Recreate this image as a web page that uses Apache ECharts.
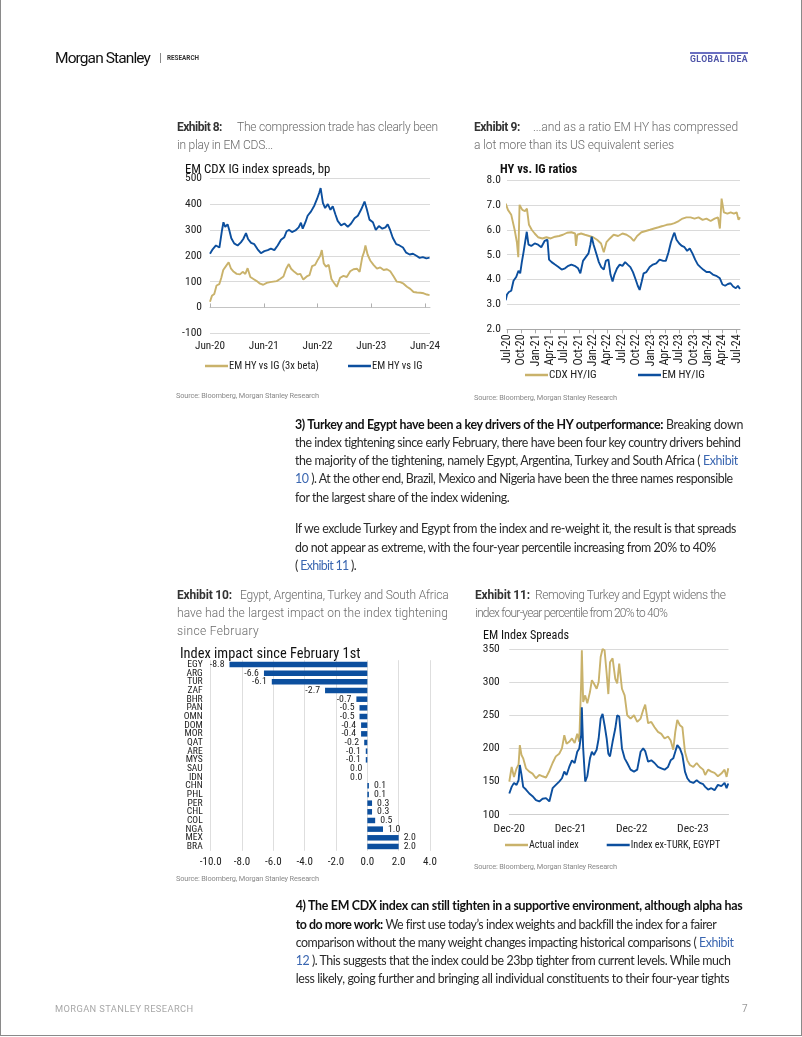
<!DOCTYPE html>
<html><head><meta charset="utf-8">
<script src="https://cdn.jsdelivr.net/npm/echarts@6/dist/echarts.min.js"></script>
<style>
html,body{margin:0;padding:0;background:#fff;}
#page{position:relative;width:802px;height:1037px;overflow:hidden;background:#fff;}
#chart{position:absolute;left:0;top:0;width:802px;height:1037px;z-index:0;}
#frame{position:absolute;left:0;top:0;width:802px;height:1036px;box-sizing:border-box;border:1px solid #8a8a8a;border-top:none;z-index:2;pointer-events:none;}
.t{position:absolute;white-space:nowrap;z-index:1;line-height:16px;}
.cap{font-family:Roboto,sans-serif;font-size:12px;color:#6a6a6a;font-weight:300;}
.cap b{color:#333;font-weight:700;}
.bd{font-family:Lato,'Open Sans',sans-serif;font-size:12.4px;color:#2a2a2a;}
.bd b{color:#111;font-weight:700;}
.lk{color:#3a66b0;}
.src{font-family:Roboto,sans-serif;font-size:7.4px;color:#8a8a8a;}
</style></head>
<body>
<div id="page">
<div id="chart"></div>
<div id="frame"></div>

<div class="t" style="left:55px;top:49.5px;font-family:Roboto,sans-serif;font-size:15.5px;color:#111;" data-r="150">Morgan Stanley</div>
<div style="position:absolute;left:160px;top:53px;width:1px;height:10px;background:#888;"></div>
<div class="t" style="left:167px;top:50px;font-family:Roboto,sans-serif;font-size:6.3px;font-weight:700;color:#333;" data-r="199">RESEARCH</div>
<div style="position:absolute;left:690px;top:51.5px;width:58px;height:2px;background:#6b70c2;"></div>
<div class="t" style="left:690px;top:51px;font-family:Roboto,sans-serif;font-size:8.6px;font-weight:700;color:#4f55a8;" data-r="748">GLOBAL IDEA</div>

<div class="t cap" style="left:177px;top:118.5px;" data-r="222"><b>Exhibit 8:</b></div>
<div class="t cap" style="left:237px;top:118.5px;" data-r="438">The compression trade has clearly been</div>
<div class="t cap" style="left:177px;top:136.5px;" data-r="273">in play in EM CDS...</div>

<div class="t cap" style="left:474px;top:118.5px;" data-r="520"><b>Exhibit 9:</b></div>
<div class="t cap" style="left:533px;top:118.5px;" data-r="738">...and as a ratio EM HY has compressed</div>
<div class="t cap" style="left:474px;top:136.5px;" data-r="674">a lot more than its US equivalent series</div>

<div class="t src" style="left:176px;top:387.7px;" data-r="319">Source: Bloomberg, Morgan Stanley Research</div>
<div class="t src" style="left:474px;top:389.7px;" data-r="617">Source: Bloomberg, Morgan Stanley Research</div>

<div class="t bd" style="left:295px;top:417px;" data-r="743"><b>3) Turkey and Egypt have been a key drivers of the HY outperformance:</b> Breaking down</div>
<div class="t bd" style="left:295px;top:435.3px;" data-r="740.7">the index tightening since early February, there have been four key country drivers behind</div>
<div class="t bd" style="left:295px;top:453px;" data-r="738.3">the majority of the tightening, namely Egypt, Argentina, Turkey and South Africa ( <span class="lk">Exhibit</span></div>
<div class="t bd" style="left:295px;top:471.3px;" data-r="732.7"><span class="lk">10</span> ). At the other end, Brazil, Mexico and Nigeria have been the three names responsible</div>
<div class="t bd" style="left:295px;top:489.7px;" data-r="509.3">for the largest share of the index widening.</div>
<div class="t bd" style="left:295px;top:521.3px;" data-r="736">If we exclude Turkey and Egypt from the index and re-weight it, the result is that spreads</div>
<div class="t bd" style="left:295px;top:539.7px;" data-r="716">do not appear as extreme, with the four-year percentile increasing from 20% to 40%</div>
<div class="t bd" style="left:295px;top:558px;" data-r="356">( <span class="lk">Exhibit 11</span> ).</div>

<div class="t cap" style="left:177px;top:587px;" data-r="232"><b>Exhibit 10:</b></div>
<div class="t cap" style="left:240px;top:587px;" data-r="448.5">Egypt, Argentina, Turkey and South Africa</div>
<div class="t cap" style="left:177px;top:605px;" data-r="448">have had the largest impact on the index tightening</div>
<div class="t cap" style="left:177px;top:622.5px;" data-r="259">since February</div>

<div class="t cap" style="left:475px;top:587px;" data-r="530"><b>Exhibit 11:</b></div>
<div class="t cap" style="left:535px;top:587px;" data-r="725.6">Removing Turkey and Egypt widens the</div>
<div class="t cap" style="left:475px;top:605px;" data-r="667">index four-year percentile from 20% to 40%</div>

<div class="t src" style="left:176px;top:871.3px;" data-r="319">Source: Bloomberg, Morgan Stanley Research</div>
<div class="t src" style="left:474px;top:858.7px;" data-r="617">Source: Bloomberg, Morgan Stanley Research</div>

<div class="t bd" style="left:295.7px;top:898px;" data-r="743"><b>4) The EM CDX index can still tighten in a supportive environment, although alpha has</b></div>
<div class="t bd" style="left:295.7px;top:916.7px;" data-r="715.8"><b>to do more work:</b> We first use today’s index weights and backfill the index for a fairer</div>
<div class="t bd" style="left:295.7px;top:935px;" data-r="733.7">comparison without the many weight changes impacting historical comparisons ( <span class="lk">Exhibit</span></div>
<div class="t bd" style="left:295.7px;top:953.3px;" data-r="730.7"><span class="lk">12</span> ). This suggests that the index could be 23bp tighter from current levels. While much</div>
<div class="t bd" style="left:295.7px;top:971.3px;" data-r="729.6">less likely, going further and bringing all individual constituents to their four-year tights</div>

<div class="t" style="left:55px;top:1001px;font-family:Roboto,sans-serif;font-size:9.3px;color:#a8a8a8;" data-r="193.5">MORGAN STANLEY RESEARCH</div>
<div class="t" style="left:742px;top:1001px;font-family:Roboto,sans-serif;font-size:10px;color:#999;">7</div>
</div>

<script>
// ---------- DATA ----------
// Exhibit 8
const ex8GoldDates = ['2020-06-01','2020-06-14','2020-06-30','2020-07-15','2020-08-03','2020-08-17','2020-08-30','2020-09-18','2020-10-06','2020-10-22','2020-11-10','2020-11-30','2020-12-22',
 '2021-01-10','2021-01-28','2021-02-13','2021-03-01','2021-03-22','2021-04-14','2021-05-06','2021-05-28','2021-06-21','2021-07-13','2021-08-05','2021-08-28','2021-09-20','2021-10-13','2021-11-01','2021-11-19','2021-12-04','2021-12-26',
 '2022-01-19','2022-02-06','2022-02-26','2022-03-19','2022-04-07','2022-04-25','2022-05-15','2022-06-03','2022-06-19','2022-06-30','2022-07-13','2022-07-28','2022-08-16','2022-09-04','2022-09-22','2022-10-10','2022-11-02','2022-11-25','2022-12-17',
 '2023-01-10','2023-02-02','2023-02-25','2023-03-13','2023-03-31','2023-04-13','2023-04-22','2023-05-06','2023-05-24','2023-06-16','2023-07-09','2023-08-01','2023-08-24','2023-09-16','2023-10-08','2023-10-31','2023-11-22','2023-12-15',
 '2024-01-07','2024-01-30','2024-02-22','2024-03-14','2024-04-07','2024-04-30','2024-05-22','2024-06-13','2024-07-01'];
const ex8HY3xBeta = [22,45,52,85,90,115,145,160,175,150,138,130,128,
 138,130,152,118,110,102,92,88,95,98,100,102,110,120,150,168,150,138,
 128,130,108,120,125,160,165,185,200,222,170,158,165,110,95,80,115,122,118,
 140,148,150,138,195,215,240,205,182,165,150,155,145,148,140,120,100,98,
 92,80,72,60,58,57,55,50,48];
const ex8BlueDates = ['2020-06-01','2020-06-19','2020-07-11','2020-08-04','2020-08-22','2020-09-01','2020-09-13','2020-09-29','2020-10-10','2020-10-24','2020-11-13','2020-12-06','2020-12-28',
 '2021-01-14','2021-02-02','2021-02-16','2021-03-06','2021-03-28','2021-04-20','2021-05-12','2021-06-05','2021-06-28','2021-07-19','2021-08-12','2021-09-04','2021-09-27','2021-10-19','2021-11-04','2021-11-22','2021-12-10',
 '2022-01-03','2022-01-25','2022-02-10','2022-02-22','2022-03-10','2022-03-25','2022-04-18','2022-05-10','2022-05-28','2022-06-13','2022-06-22','2022-07-07','2022-07-22','2022-08-10','2022-08-28','2022-09-13','2022-10-01','2022-10-16','2022-11-09','2022-12-01','2022-12-24',
 '2023-01-16','2023-02-09','2023-03-01','2023-03-24','2023-04-16','2023-05-01','2023-05-19','2023-06-12','2023-07-01','2023-07-22','2023-08-15','2023-09-06','2023-09-21','2023-10-07','2023-10-25','2023-11-18','2023-12-10',
 '2024-01-03','2024-01-25','2024-02-18','2024-03-10','2024-04-03','2024-04-25','2024-05-16','2024-06-10','2024-07-01'];
const ex8HYvsIG = [208,225,240,232,300,330,312,322,300,268,248,240,252,
 265,288,265,250,245,225,210,218,222,228,222,240,262,272,295,300,292,
 298,310,328,305,330,355,372,395,420,445,462,405,385,400,378,392,360,335,318,325,312,
 325,345,355,380,410,380,340,330,300,315,305,310,322,300,270,245,240,
 232,212,205,208,200,192,195,190,193];
const ex8Ticks = ['Jun-20','Jun-21','Jun-22','Jun-23','Jun-24'];

// Exhibit 9
const ex9CdxDates = ['2020-06-23','2020-07-07','2020-07-28','2020-08-19','2020-09-03','2020-09-12','2020-09-20','2020-10-07','2020-10-24','2020-11-06','2020-11-19','2020-12-06','2020-12-25',
 '2021-01-16','2021-02-13','2021-03-08','2021-04-05','2021-05-02','2021-05-28','2021-06-22','2021-07-18','2021-08-15','2021-09-08','2021-09-14','2021-09-22','2021-10-16','2021-11-10','2021-12-06',
 '2022-01-01','2022-01-26','2022-02-21','2022-03-08','2022-03-25','2022-04-16','2022-05-10','2022-06-08','2022-07-05','2022-08-01','2022-08-25','2022-09-16','2022-10-07','2022-11-04','2022-12-01','2022-12-28',
 '2023-01-24','2023-02-21','2023-03-17','2023-04-12','2023-05-07','2023-06-01','2023-06-28','2023-07-22','2023-08-16','2023-09-12','2023-10-07','2023-11-02','2023-11-28','2023-12-22',
 '2024-01-18','2024-02-13','2024-03-04','2024-03-16','2024-03-27','2024-04-11','2024-05-03','2024-05-24','2024-06-14','2024-07-01','2024-07-13','2024-07-22'];
const ex9CdxRatio = [7.05,6.8,6.6,6.0,5.5,4.9,7.0,6.8,6.75,6.85,6.2,6.0,5.85,
 5.7,5.65,5.7,5.65,5.72,5.75,5.8,5.88,5.9,5.85,5.35,5.8,5.85,5.8,5.75,
 5.7,5.6,5.45,5.1,5.5,5.65,5.8,5.75,5.85,5.8,5.7,5.55,5.75,5.9,5.95,6.0,
 6.05,6.1,6.15,6.2,6.22,6.27,6.35,6.45,6.5,6.5,6.45,6.5,6.4,6.45,
 6.35,6.45,6.5,6.05,7.25,6.7,6.65,6.7,6.65,6.7,6.4,6.5];
const ex9EmDates = ['2020-06-23','2020-07-01','2020-07-13','2020-07-28','2020-08-12','2020-08-29','2020-09-13','2020-09-24','2020-10-04','2020-10-15','2020-10-25','2020-11-05','2020-11-16','2020-12-03','2020-12-25',
 '2021-01-16','2021-02-06','2021-02-27','2021-03-15','2021-03-25','2021-04-11','2021-05-02','2021-05-24','2021-06-14','2021-07-05','2021-07-26','2021-08-15','2021-09-05','2021-09-27','2021-10-11','2021-10-28','2021-11-15','2021-12-02','2021-12-14','2021-12-22',
 '2022-01-04','2022-01-21','2022-02-07','2022-02-22','2022-03-08','2022-03-21','2022-04-07','2022-04-20','2022-05-03','2022-05-15','2022-06-01','2022-06-18','2022-07-05','2022-07-22','2022-08-08','2022-08-25','2022-09-11','2022-09-28','2022-10-11','2022-10-23','2022-11-05','2022-11-18','2022-12-05','2022-12-26',
 '2023-01-16','2023-02-07','2023-02-28','2023-03-21','2023-04-07','2023-04-24','2023-05-09','2023-05-24','2023-06-01','2023-06-14','2023-07-01','2023-07-18','2023-08-04','2023-08-21','2023-09-07','2023-09-24','2023-10-11','2023-10-28','2023-11-14','2023-12-01','2023-12-22',
 '2024-01-12','2024-02-02','2024-02-23','2024-03-16','2024-04-02','2024-04-19','2024-05-06','2024-05-23','2024-06-09','2024-06-26','2024-07-09','2024-07-22'];
const ex9EmRatio = [3.17,3.4,3.5,3.55,3.95,4.1,4.35,4.25,4.7,5.1,5.05,5.92,5.4,5.35,5.45,
 5.4,5.3,5.55,5.6,4.8,4.7,4.6,4.5,4.4,4.45,4.55,4.6,4.55,4.45,4.25,4.75,4.9,5.05,5.4,5.72,
 5.4,5.05,4.7,4.5,4.4,4.75,4.8,4.2,3.92,4.2,4.45,4.6,4.55,4.7,4.6,4.5,4.3,4.0,3.75,3.58,3.9,4.25,4.3,4.5,
 4.6,4.65,4.8,4.75,4.75,5.1,5.5,5.78,5.88,5.6,5.45,5.35,5.3,5.15,5.25,5.05,4.8,4.6,4.5,4.4,4.3,
 4.3,4.2,4.15,4.05,3.8,3.75,3.82,3.85,3.72,3.65,3.75,3.62];
const ex9Ticks = ['Jul-20','Oct-20','Jan-21','Apr-21','Jul-21','Oct-21','Jan-22','Apr-22','Jul-22','Oct-22','Jan-23','Apr-23','Jul-23','Oct-23','Jan-24','Apr-24','Jul-24'];

// Exhibit 10
const ex10Countries = ['EGY','ARG','TUR','ZAF','BHR','PAN','OMN','DOM','MOR','QAT','ARE','MYS','SAU','IDN','CHN','PHL','PER','CHL','COL','NGA','MEX','BRA'];
const ex10Impact = [-8.8,-6.6,-6.1,-2.7,-0.7,-0.5,-0.5,-0.4,-0.4,-0.2,-0.1,-0.1,0.0,0.0,0.1,0.1,0.3,0.3,0.5,1.0,2.0,2.0];

// Exhibit 11
const ex11Dates = ['2020-12-01','2020-12-15','2020-12-29',
 '2021-01-14','2021-01-26','2021-02-03','2021-02-13','2021-02-23','2021-03-09','2021-03-29','2021-04-18','2021-05-08','2021-05-28','2021-06-17','2021-07-07','2021-07-27','2021-08-16','2021-09-05','2021-09-25','2021-10-11','2021-10-25','2021-11-08','2021-11-24','2021-12-10','2021-12-26',
 '2022-01-11','2022-01-23','2022-02-04','2022-02-08','2022-02-16','2022-02-28','2022-03-10','2022-03-26','2022-04-07','2022-04-19','2022-05-05','2022-05-17','2022-05-29','2022-06-10','2022-06-22','2022-07-04','2022-07-14','2022-07-24','2022-08-09','2022-08-25','2022-09-06','2022-09-18','2022-10-04','2022-10-20','2022-11-05','2022-11-25','2022-12-15',
 '2023-01-04','2023-01-24','2023-02-09','2023-02-21','2023-03-08','2023-03-27','2023-04-16','2023-05-06','2023-05-26','2023-06-15','2023-07-05','2023-07-21','2023-08-06','2023-08-18','2023-08-30','2023-09-15','2023-09-30','2023-10-15','2023-10-29','2023-11-14','2023-12-04','2023-12-24',
 '2024-01-13','2024-02-02','2024-02-14','2024-03-01','2024-03-20','2024-04-09','2024-04-29','2024-05-19','2024-06-08','2024-06-20','2024-06-30'];
const ex11Actual = [150,172,157,
 170,176,205,190,185,170,165,162,155,160,158,156,166,178,188,192,200,220,207,210,215,208,
 222,210,300,348,270,280,268,285,303,298,290,300,338,350,348,313,282,330,336,305,298,328,290,280,250,245,250,
 240,245,258,266,238,240,232,225,222,215,218,212,198,225,243,235,232,195,182,175,172,178,
 172,168,160,168,165,163,158,162,168,157,170];
const ex11ExTurkEgypt = [132,142,148,
 145,152,175,160,142,138,132,128,122,120,124,125,120,140,145,150,155,165,160,172,182,178,
 195,200,220,262,200,150,158,185,195,190,198,215,245,252,235,215,192,188,210,230,250,248,200,185,178,168,165,
 168,195,200,196,180,182,178,172,170,168,172,182,185,195,205,200,190,165,155,150,148,152,
 148,146,142,138,140,137,145,143,148,140,147];
const ex11Ticks = ['Dec-20','Dec-21','Dec-22','Dec-23'];

// ---------- CHART ----------
const GOLD = '#c9b26b', BLUE = '#0c4f9e', GRIDC = '#dadada', TXT = '#222';
const FN = "'Liberation Sans Narrow','Arial Narrow','Roboto Condensed','DejaVu Sans Condensed',Roboto,sans-serif";

function mo(s, y0, m0){ const p = s.split('-').map(Number); return (p[0]-y0)*12 + (p[1]-m0) + (p[2]-1)/30.4; }
function pairs(dates, vals, y0, m0){ return dates.map((d,i)=>[mo(d,y0,m0), vals[i]]); }
function tickFmt(labels, step){ return v => { const i = Math.round(v/step); return (Math.abs(v-i*step)<1e-6 && labels[i]!==undefined) ? labels[i] : ''; }; }
const lbl = (size, extra) => Object.assign({fontFamily:FN, fontSize:size, color:TXT}, extra||{});

const chart = echarts.init(document.getElementById('chart'), null, {renderer:'canvas', width:802, height:1037});
const lineSeries = (name, xi, yi, data, color) => ({name, type:'line', xAxisIndex:xi, yAxisIndex:yi, data, showSymbol:false, symbol:'none',
  lineStyle:{width:1.9, color}, itemStyle:{color}, emphasis:{disabled:true}, z:3});
const legendItem = (name, left, top, fs) => ({data:[name], left, top, padding:0, itemWidth:23, itemHeight:2.5, icon:'rect', selectedMode:false,
  textStyle:{fontFamily:FN, fontSize:fs, color:TXT, padding:[0,0,0,-4]}});

chart.setOption({
  animation:false,
  title:[
    {text:'EM CDX IG index spreads, bp', left:185, top:163, padding:0, textStyle:{fontFamily:FN, fontSize:12.8, fontWeight:'normal', color:'#111'}},
    {text:'HY vs. IG ratios', left:500, top:163, padding:0, textStyle:{fontFamily:FN, fontSize:12.5, fontWeight:'bold', color:'#111'}},
    {text:'Index impact since February 1st', left:180, top:647, padding:0, textStyle:{fontFamily:FN, fontSize:14.4, fontWeight:'normal', color:'#111'}},
    {text:'EM Index Spreads', left:483, top:630, padding:0, textStyle:{fontFamily:FN, fontSize:12.2, fontWeight:'normal', color:'#111'}}
  ],
  legend:[
    legendItem('EM HY vs IG (3x beta)', 205, 360.5, 10.5),
    legendItem('EM HY vs IG', 348, 360.5, 10.5),
    legendItem('CDX HY/IG', 525, 369.5, 11.2),
    legendItem('EM HY/IG', 638, 369.5, 11.2),
    legendItem('Actual index', 505, 840, 10.2),
    legendItem('Index ex-TURK, EGYPT', 606.7, 840, 10.2)
  ],
  grid:[
    {left:210, top:178.3, width:220, height:155},
    {left:507, top:180, width:233, height:149.3},
    {left:210.7, top:660.2, width:219.3, height:190.6},
    {left:509.3, top:649, width:219.2, height:165.7}
  ],
  xAxis:[
    {gridIndex:0, type:'value', min:0, max:49.1, interval:12, axisLine:{show:false, onZero:false}, axisTick:{show:false}, splitLine:{show:false},
      axisLabel:lbl(11.2, {margin:7, formatter:tickFmt(ex8Ticks,12), customValues:[0,12,24,36,48]})},
    {gridIndex:0, type:'value', min:0, max:49.1, interval:12, axisLine:{show:true, onZero:true, lineStyle:{color:'#c4c4c4'}},
      axisTick:{show:true, length:4, lineStyle:{color:'#b0b0b0'}, customValues:[0,12,24,36,48]}, axisLabel:{show:false}, splitLine:{show:false}},
    {gridIndex:1, type:'value', min:0, max:48.7, interval:3, axisLine:{show:true, onZero:false, lineStyle:{color:'#a8a8a8'}},
      axisTick:{show:true, length:4, lineStyle:{color:'#a8a8a8'}, customValues:[0,3,6,9,12,15,18,21,24,27,30,33,36,39,42,45,48]}, splitLine:{show:false},
      axisLabel:lbl(12, {rotate:90, margin:5, formatter:tickFmt(ex9Ticks,3), customValues:[0,3,6,9,12,15,18,21,24,27,30,33,36,39,42,45,48]})},
    {gridIndex:2, type:'value', min:-10, max:4, interval:2, axisLine:{show:false, onZero:false}, axisTick:{show:false},
      splitLine:{show:true, lineStyle:{color:'#dedede'}}, axisLabel:lbl(11, {margin:6, formatter:v=>v.toFixed(1)})},
    {gridIndex:3, type:'value', min:0, max:43.0, interval:12, axisLine:{show:true, onZero:false, lineStyle:{color:'#cfcfcf'}}, axisTick:{show:false}, splitLine:{show:false},
      axisLabel:lbl(11.5, {margin:8, formatter:tickFmt(ex11Ticks,12), customValues:[0,12,24,36]})}
  ],
  yAxis:[
    {gridIndex:0, type:'value', min:-100, max:500, interval:100, axisLine:{show:false}, axisTick:{show:false},
      splitLine:{lineStyle:{color:GRIDC}}, axisLabel:lbl(11.5, {margin:8})},
    {gridIndex:1, type:'value', min:2, max:8, interval:1, axisLine:{show:false}, axisTick:{show:false},
      splitLine:{lineStyle:{color:GRIDC}}, axisLabel:lbl(11.5, {margin:6, formatter:v=>v.toFixed(1)})},
    {gridIndex:2, type:'category', data:ex10Countries, inverse:true, axisLine:{show:false, onZero:false}, axisTick:{show:false},
      axisLabel:lbl(9.6, {margin:8, interval:0, lineHeight:9})},
    {gridIndex:3, type:'value', min:100, max:350, interval:50, axisLine:{show:false}, axisTick:{show:false},
      splitLine:{lineStyle:{color:GRIDC}}, axisLabel:lbl(11.5, {margin:9.5})}
  ],
  series:[
    lineSeries('EM HY vs IG (3x beta)', 0, 0, pairs(ex8GoldDates, ex8HY3xBeta, 2020, 6), GOLD),
    lineSeries('EM HY vs IG', 0, 0, pairs(ex8BlueDates, ex8HYvsIG, 2020, 6), BLUE),
    lineSeries('CDX HY/IG', 2, 1, pairs(ex9CdxDates, ex9CdxRatio, 2020, 7), GOLD),
    lineSeries('EM HY/IG', 2, 1, pairs(ex9EmDates, ex9EmRatio, 2020, 7), BLUE),
    {type:'bar', xAxisIndex:3, yAxisIndex:2, barWidth:5.5, itemStyle:{color:BLUE},
      data: ex10Impact.map(v => ({value:v, label:{position: v > 0 ? 'right' : 'left'}})),
      label:{show:true, distance:5, fontFamily:FN, fontSize:9.8, color:TXT, formatter:p=>Number(p.value).toFixed(1)},
      emphasis:{disabled:true}},
    lineSeries('Actual index', 4, 3, pairs(ex11Dates, ex11Actual, 2020, 12), GOLD),
    lineSeries('Index ex-TURK, EGYPT', 4, 3, pairs(ex11Dates, ex11ExTurkEgypt, 2020, 12), BLUE)
  ]
});

// ---------- text fitting (letter spacing so each line ends where the reference line ends) ----------
function fitAll(){
  document.querySelectorAll('[data-r]').forEach(el => {
    el.style.letterSpacing = '0px';
    const left = parseFloat(el.style.left);
    const target = parseFloat(el.dataset.r) - left;
    const w = el.getBoundingClientRect().width;
    const n = el.textContent.length;
    if (n > 1) el.style.letterSpacing = ((target - w) / n) + 'px';
  });
}
fitAll();
if (document.fonts && document.fonts.ready) document.fonts.ready.then(fitAll);
</script>
</body></html>
